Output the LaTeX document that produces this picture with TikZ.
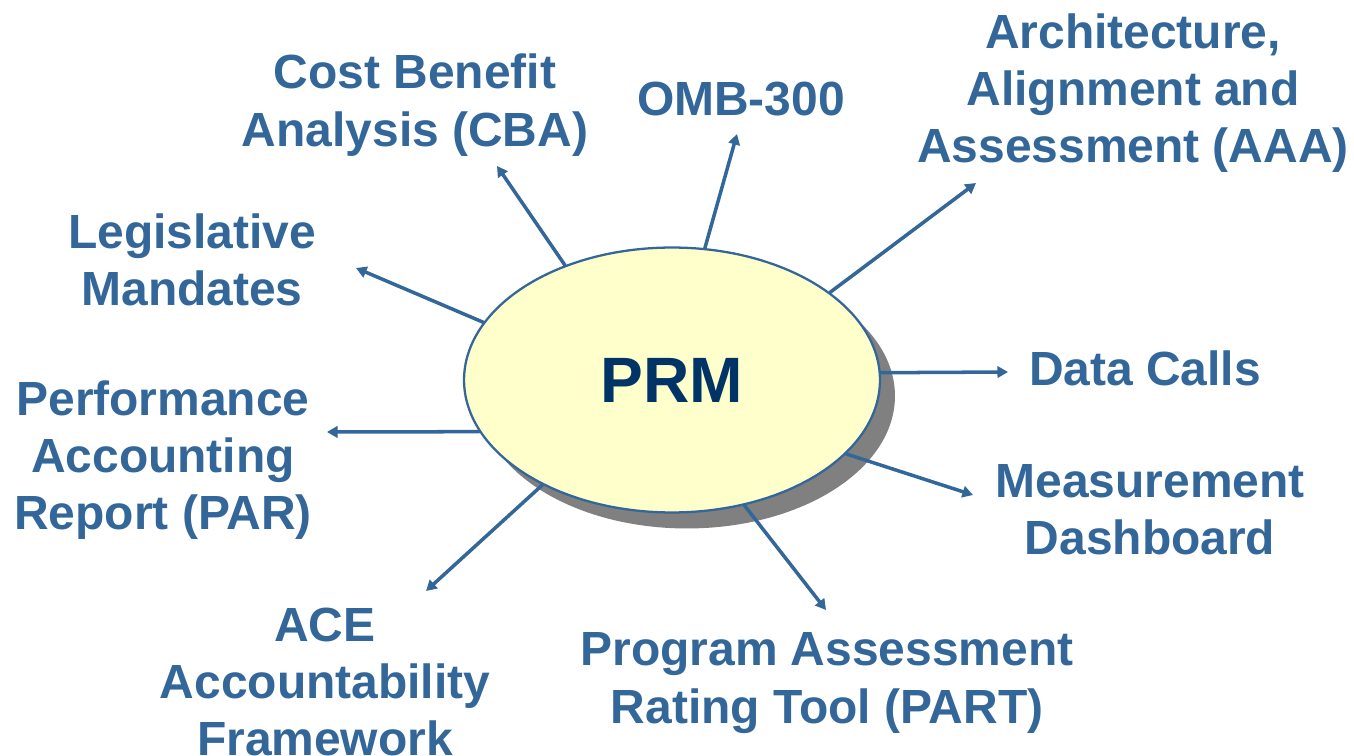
\documentclass[tikz,border=0pt]{standalone}
\usepackage{fontspec}
\setmainfont{Liberation Sans}
\usetikzlibrary{arrows.meta,shadows,shapes.geometric}
\definecolor{linkblue}{HTML}{336699}
\definecolor{prmnavy}{HTML}{003366}
\definecolor{prmfill}{HTML}{FFFFCC}
\begin{document}
\begin{tikzpicture}[x=0.02cm,y=-0.02cm,line cap=round,line join=round,
  usage/.style={text=linkblue,align=center,font=\fontsize{27.3}{32.6}\selectfont\bfseries},
  link/.style={draw=linkblue,line width=2pt,-{Triangle[length=6pt,width=6.5pt]}}]
  \useasboundingbox (0,0) rectangle (1354,756);
  % the reference model in the middle
  \node[ellipse,draw=linkblue,line width=1.3pt,fill=prmfill,
    minimum width=8.32cm,minimum height=5.3cm,inner sep=0pt,
    drop shadow={shadow xshift=0.3cm,shadow yshift=-0.32cm,fill=black!50,opacity=1},
    text=prmnavy,font=\fontsize{36.5}{40}\selectfont\bfseries] (prm) at (672,380) {PRM};
  % where each arrow ends
  \coordinate (cbaTip) at (497,166);
  \coordinate (ombTip) at (737,134);
  \coordinate (aaaTip) at (976,183);
  \coordinate (legTip) at (356,268);
  \coordinate (dataTip) at (1008,372);
  \coordinate (parTip) at (327,432);
  \coordinate (measTip) at (973,495);
  \coordinate (aceTip) at (426,591);
  \coordinate (partTip) at (826,610);
  % labels
  \node[usage] (cba) at (415,105) {Cost Benefit\\Analysis (CBA)};
  \node[usage] (omb) at (741,99) {OMB-300};
  \node[usage] (aaa) at (1133,93) {Architecture,\\Alignment and\\Assessment (AAA)};
  \node[usage] (leg) at (192,260) {Legislative\\Mandates};
  \node[usage] (data) at (1145,368) {Data Calls};
  \node[usage] (par) at (163,460) {Performance\\Accounting\\Report (PAR)};
  \node[usage] (meas) at (1150,510) {Measurement\\Dashboard};
  \node[usage] (ace) at (325,682) {ACE\\Accountability\\Framework};
  \node[usage] (part) at (827,683) {Program Assessment\\Rating Tool (PART)};
  % arrows out of the ellipse
  \draw[link] (prm.133.7) -- (cbaTip);
  \draw[link] (prm.76.3) -- (ombTip);
  \draw[link] (prm.29) -- (aaaTip);
  \draw[link] (prm.163.2) -- (legTip);
  \draw[link] (prm.2) -- (dataTip);
  \draw[link] (prm.195) -- (parTip);
  \draw[link] (prm.337) -- (measTip);
  \draw[link] (prm.219.7) -- (aceTip);
  \draw[link] (prm.300) -- (partTip);
\end{tikzpicture}
\end{document}
